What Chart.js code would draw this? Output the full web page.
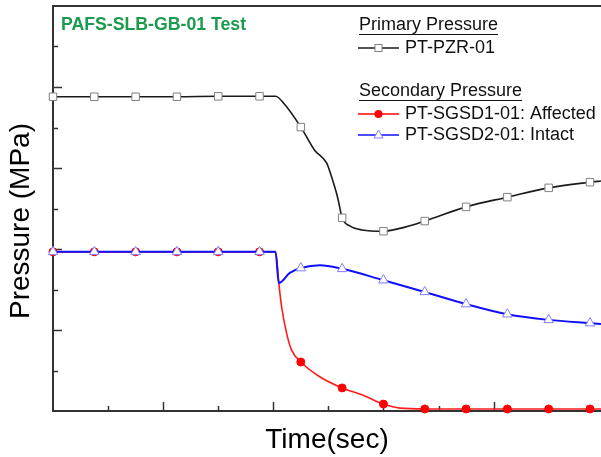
<!DOCTYPE html>
<html>
<head>
<meta charset="utf-8">
<script src="https://cdn.jsdelivr.net/npm/chart.js@4"></script>
<style>
  html, body { margin: 0; padding: 0; background: #fff; overflow: hidden; }
</style>
</head>
<body>
<canvas id="myChart" width="601" height="457"></canvas>
<script>
// values (time and pressure in axis units, no labels on the axes)
const pzrTime = [0, 0.75, 1.5, 2.25, 3, 3.75, 4.04, 4.2, 4.5, 4.75, 4.97, 5.03, 5.17, 5.25, 5.39, 5.61, 6, 6.39, 6.75, 7.5, 8.25, 9, 9.75, 9.95];
const pzrValue = [7.76, 7.76, 7.76, 7.76, 7.77, 7.77, 7.77, 7.58, 7.01, 6.44, 6.12, 5.90, 5.26, 4.77, 4.57, 4.47, 4.44, 4.54, 4.69, 5.04, 5.28, 5.51, 5.65, 5.68];

const sgsd1Time = [0, 0.75, 1.5, 2.25, 3, 3.75, 4.04, 4.1, 4.15, 4.24, 4.33, 4.5, 4.85, 5.25, 5.61, 6, 6.3, 6.75, 7.5, 8.25, 9, 9.75, 9.95];
const sgsd1Value = [3.93, 3.93, 3.93, 3.93, 3.93, 3.93, 3.93, 3.16, 2.58, 1.93, 1.51, 1.21, 0.84, 0.57, 0.40, 0.17, 0.07, 0.05, 0.05, 0.05, 0.05, 0.05, 0.05];

const sgsd2Time = [0, 0.75, 1.5, 2.25, 3, 3.75, 4.04, 4.1, 4.3, 4.5, 4.85, 5.25, 6, 6.75, 7.5, 8.25, 9, 9.75, 9.95];
const sgsd2Value = [3.93, 3.93, 3.93, 3.93, 3.93, 3.93, 3.93, 3.16, 3.41, 3.53, 3.60, 3.51, 3.23, 2.94, 2.64, 2.39, 2.25, 2.17, 2.15];

const seriesNames = ['PT-PZR-01', 'PT-SGSD1-01: Affected', 'PT-SGSD2-01: Intact'];
const groupNames = ['Primary Pressure', 'Secondary Pressure'];
const chartTitle = 'PAFS-SLB-GB-01 Test';
const yTitle = 'Pressure (MPa)';
const xTitle = 'Time(sec)';
const markerStep = 0.75;

function toPoints(xs, ys) {
  return xs.map((x, i) => ({ x: x, y: ys[i] }));
}
function isMarker(x) {
  const k = x / markerStep;
  return Math.abs(k - Math.round(k)) < 1e-6;
}

// small marker painters, used for the legend
function square(ctx, x, y) {
  ctx.fillStyle = '#fff'; ctx.strokeStyle = '#808080'; ctx.lineWidth = 1;
  ctx.fillRect(x - 3.5, y - 3.5, 7, 7); ctx.strokeRect(x - 3.5, y - 3.5, 7, 7);
}
function dot(ctx, x, y) {
  ctx.fillStyle = '#ff0000';
  ctx.beginPath(); ctx.arc(x, y, 4, 0, Math.PI * 2); ctx.fill();
}
function tri(ctx, x, y) {
  ctx.fillStyle = '#fff'; ctx.strokeStyle = '#8080ff'; ctx.lineWidth = 1;
  ctx.beginPath(); ctx.moveTo(x, y - 5); ctx.lineTo(x + 4.5, y + 3); ctx.lineTo(x - 4.5, y + 3); ctx.closePath();
  ctx.fill(); ctx.stroke();
}

const decorations = {
  id: 'decorations',
  beforeDatasetsDraw(chart) {
    const { ctx, chartArea: a, scales: { x, y } } = chart;
    ctx.save();
    ctx.strokeStyle = '#333';
    ctx.lineWidth = 2;
    ctx.beginPath();
    ctx.moveTo(a.left - 1, a.top); ctx.lineTo(a.right, a.top);
    ctx.stroke();
    // inward ticks
    ctx.lineWidth = 1.5;
    for (let v = 1; v <= 10; v++) {
      const px = Math.round(x.getPixelForValue(v)) + 0.5;
      const len = v % 2 === 0 ? 9 : 5;
      ctx.beginPath(); ctx.moveTo(px, a.bottom); ctx.lineTo(px, a.bottom - len); ctx.stroke();
    }
    for (let v = 1; v <= 9; v++) {
      const py = Math.round(y.getPixelForValue(v)) + 0.5;
      const len = v % 2 === 0 ? 9 : 5;
      ctx.beginPath(); ctx.moveTo(a.left, py); ctx.lineTo(a.left + len, py); ctx.stroke();
    }
    // y axis title
    ctx.fillStyle = '#000';
    ctx.font = '28px "Liberation Sans", Arial, sans-serif';
    ctx.textAlign = 'center';
    ctx.textBaseline = 'middle';
    ctx.translate(21, 221);
    ctx.rotate(-Math.PI / 2);
    ctx.fillText(yTitle, 0, 0);
    ctx.restore();
  },
  afterDraw(chart) {
    const { ctx } = chart;
    ctx.save();
    ctx.textBaseline = 'middle';
    ctx.textAlign = 'left';
    // title
    ctx.fillStyle = '#1a9b4e';
    ctx.font = 'bold 17.7px "Liberation Sans", Arial, sans-serif';
    ctx.fillText(chartTitle, 61, 25);
    // legend
    ctx.font = '18px "Liberation Sans", Arial, sans-serif';
    ctx.fillStyle = '#111';
    ctx.strokeStyle = '#111';
    ctx.lineWidth = 1;
    [[groupNames[0], 25], [groupNames[1], 91]].forEach(([t, yy]) => {
      ctx.fillText(t, 359, yy);
      const w = ctx.measureText(t).width;
      ctx.beginPath(); ctx.moveTo(359, yy + 9.5); ctx.lineTo(359 + w, yy + 9.5); ctx.stroke();
    });
    const rows = [
      [seriesNames[0], 48, '#1a1a1a', square],
      [seriesNames[1], 114, '#ff0000', dot],
      [seriesNames[2], 135, '#1010ff', tri]
    ];
    rows.forEach(([t, yy, col, mark]) => {
      ctx.strokeStyle = col; ctx.lineWidth = 1.6;
      ctx.beginPath(); ctx.moveTo(358, yy); ctx.lineTo(399, yy); ctx.stroke();
      mark(ctx, 378.5, yy);
      ctx.fillStyle = '#111';
      ctx.fillText(t, 405, yy);
    });
    ctx.restore();
  }
};

const ctx = document.getElementById('myChart');

new Chart(ctx, {
  type: 'line',
  data: {
    datasets: [
      {
        label: seriesNames[2],
        data: toPoints(sgsd2Time, sgsd2Value),
        order: 0,
        borderColor: '#1010ff',
        borderWidth: 2,
        pointStyle: 'triangle',
        pointRadius: c => isMarker(c.raw.x) ? 5.5 : 0,
        pointBackgroundColor: '#fff',
        pointBorderColor: '#8080ff',
        pointBorderWidth: 1
      },
      {
        label: seriesNames[1],
        data: toPoints(sgsd1Time, sgsd1Value),
        order: 1,
        borderColor: '#ff1a1a',
        borderWidth: 1.6,
        pointStyle: 'circle',
        pointRadius: c => isMarker(c.raw.x) ? 4 : 0,
        pointBackgroundColor: '#ff0000',
        pointBorderColor: '#ff0000',
        pointBorderWidth: 1
      },
      {
        label: seriesNames[0],
        data: toPoints(pzrTime, pzrValue),
        order: 2,
        borderColor: '#1a1a1a',
        borderWidth: 1.6,
        pointStyle: 'rect',
        pointRadius: c => isMarker(c.raw.x) ? 5.3 : 0,
        pointBackgroundColor: '#fff',
        pointBorderColor: '#808080',
        pointBorderWidth: 1
      }
    ]
  },
  options: {
    responsive: false,
    animation: false,
    clip: false,
    layout: { autoPadding: false, padding: { top: 6, right: 0, left: 0, bottom: 0 } },
    plugins: {
      legend: { display: false },
      tooltip: { enabled: false }
    },
    elements: { line: { cubicInterpolationMode: 'monotone' } },
    scales: {
      x: {
        type: 'linear',
        min: 0,
        max: 9.95,
        ticks: { display: false, stepSize: 1 },
        grid: { display: false },
        border: { display: true, color: '#333', width: 2 },
        title: {
          display: true,
          text: xTitle,
          color: '#000',
          font: { family: '"Liberation Sans", Arial, sans-serif', size: 28 },
          padding: { top: 0, bottom: 0 }
        },
        afterFit: s => { s.height = 46; s.paddingLeft = 0; s.paddingRight = 0; }
      },
      y: {
        type: 'linear',
        min: 0,
        max: 10,
        ticks: { display: false, stepSize: 1 },
        grid: { display: false },
        border: { display: true, color: '#333', width: 2 },
        title: { display: false },
        afterFit: s => { s.width = 53; s.paddingTop = 0; s.paddingBottom = 0; }
      }
    }
  },
  plugins: [decorations]
});
</script>
</body>
</html>
